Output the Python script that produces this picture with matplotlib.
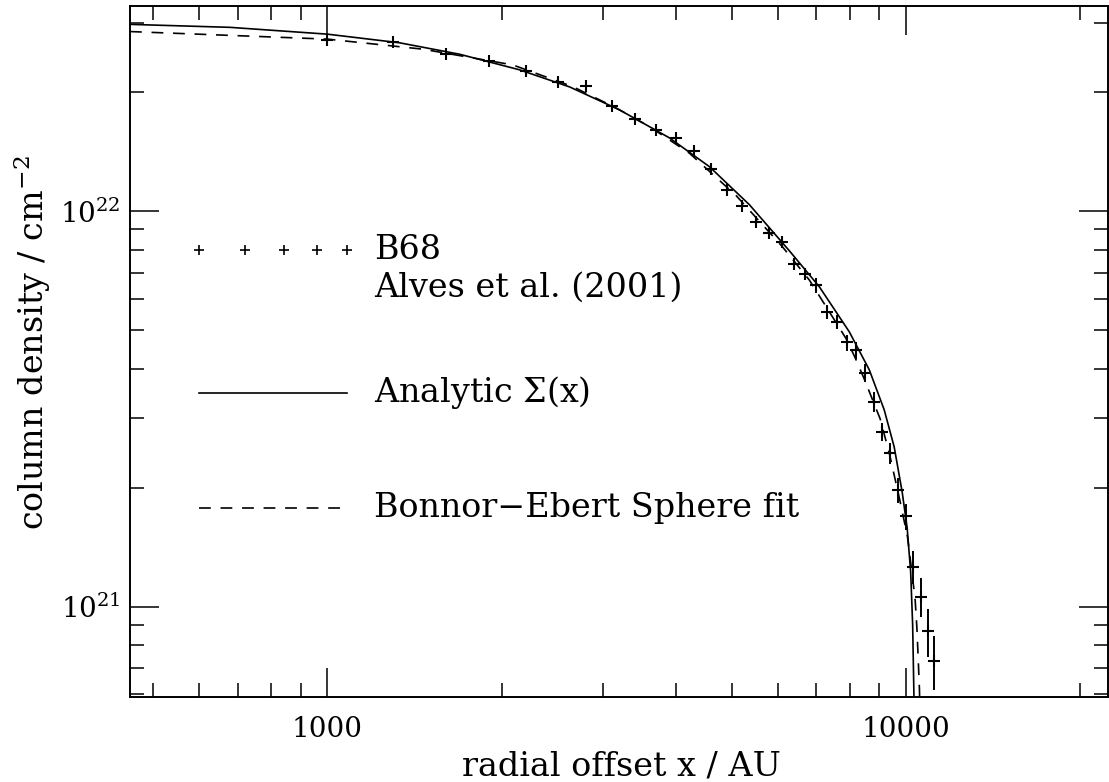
import matplotlib
matplotlib.use("Agg")
import matplotlib.pyplot as plt
from matplotlib.ticker import LogLocator, NullFormatter

plt.rcParams['font.family'] = ['DejaVu Serif']
plt.rcParams['mathtext.fontset'] = 'dejavuserif'
plt.rcParams['lines.scale_dashes'] = False

# ---- data: B68 (Alves et al. 2001) ----
b68_x = [1000, 1300, 1600, 1900, 2200, 2500, 2800, 3100, 3400, 3700,
         4000, 4300, 4600, 4900, 5200, 5500, 5800, 6100, 6400, 6700,
         7000, 7300, 7600, 7900, 8200, 8500, 8800, 9100, 9400, 9700,
         10000, 10300, 10600, 10900, 11200]
b68_y = [2.72e22, 2.69e22, 2.50e22, 2.40e22, 2.26e22, 2.12e22, 2.08e22, 1.85e22, 1.71e22, 1.61e22,
         1.53e22, 1.42e22, 1.28e22, 1.13e22, 1.03e22, 9.40e21, 8.82e21, 8.39e21, 7.38e21, 6.93e21,
         6.50e21, 5.56e21, 5.26e21, 4.66e21, 4.45e21, 3.90e21, 3.30e21, 2.77e21, 2.45e21, 1.97e21,
         1.69e21, 1.26e21, 1.06e21, 8.67e20, 7.29e20]
b68_err = [8.0e20, 8.0e20, 7.5e20, 7.0e20, 6.5e20, 6.0e20, 6.0e20, 5.5e20, 5.0e20, 4.7e20,
           4.5e20, 4.2e20, 3.8e20, 3.3e20, 3.6e20, 3.3e20, 3.1e20, 2.9e20, 2.6e20, 2.4e20,
           2.7e20, 2.3e20, 2.2e20, 2.2e20, 2.1e20, 2.1e20, 2.0e20, 1.5e20, 1.5e20, 1.4e20,
           1.3e20, 1.2e20, 1.2e20, 1.2e20, 1.15e20]

# ---- analytic Sigma(x) (solid) ----
ana_x = [455.6, 678, 1000, 1333, 1692, 2148, 2621, 3198, 3901, 4574,
         5363, 6287, 7085, 7982, 8644, 9175, 9546, 9854, 10052, 10193,
         10274, 10327, 10377]
ana_y = [2.974e22, 2.923e22, 2.809e22, 2.671e22, 2.499e22, 2.282e22, 2.066e22, 1.807e22, 1.535e22, 1.298e22,
         1.040e22, 7.953e21, 6.447e21, 4.960e21, 3.974e21, 3.145e21, 2.534e21, 1.949e21, 1.580e21, 1.223e21,
         8.974e20, 5.902e20, 3.236e20]

# ---- Bonnor-Ebert sphere fit (dashed) ----
be_x = [455.6, 1000, 1461, 2089, 2653, 3159, 3602, 4224, 5093, 6114,
        6808, 7284, 7888, 8175, 8472, 9029, 9376, 9777, 10064, 10266,
        10377, 10447, 10501, 10556, 10607]
be_y = [2.852e22, 2.729e22, 2.574e22, 2.349e22, 2.070e22, 1.825e22, 1.640e22, 1.404e22, 1.095e22, 8.145e21,
        6.706e21, 5.731e21, 4.756e21, 4.257e21, 3.767e21, 2.983e21, 2.42e21, 1.839e21, 1.502e21, 1.190e21,
        1.039e21, 8.87e20, 7.45e20, 6.15e20, 4.3e20]

x_major = [1000, 10000]
x_major_labels = ['1000', '10000']
y_major = [1e21, 1e22]
y_major_labels = [r'$10^{21}$', r'$10^{22}$']

legend_labels = ['B68', 'Alves et al. (2001)', r'Analytic $\Sigma$(x)', 'Bonnor\u2212Ebert Sphere fit']

# ---- figure ----
W, H = 1109, 782
fig = plt.figure(figsize=(W / 100, H / 100), dpi=100)
L, R, T, B = 130, 1108, 6, 696.5
ax = fig.add_axes([L / W, 1 - B / H, (R - L) / W, (B - T) / H])
ax.set_xscale('log')
ax.set_yscale('log')
ax.set_xlim(455.6, 22360)
ax.set_ylim(5.92e20, 3.31e22)

# data
ax.errorbar(b68_x, b68_y, yerr=b68_err, fmt='none', ecolor='black', elinewidth=1.4, capsize=0)
ax.plot(b68_x, b68_y, linestyle='none', marker='+', markersize=8.5, mew=1.5, color='black')
ax.plot(ana_x, ana_y, color='black', lw=1.2, solid_joinstyle='round')
ax.plot(be_x, be_y, color='black', lw=1.2, dashes=(8.5, 7))

# hand-drawn legend in data coordinates
leg_mark_x = [600, 720, 840, 960, 1080]
leg_line_x = [600, 1080]
leg_text_x = 1205
ax.plot(leg_mark_x, [8.0e21] * 5, linestyle='none', marker='+', markersize=7.5, mew=1.2, color='black')
ax.plot(leg_line_x, [3.48e21, 3.48e21], color='black', lw=1.2)
ax.plot(leg_line_x, [1.78e21, 1.78e21], color='black', lw=1.2, dashes=(8.5, 7))
fs = 24
ax.text(leg_text_x, 8.0e21, legend_labels[0], fontsize=fs, va='center', ha='left')
ax.text(leg_text_x, 6.40e21, legend_labels[1], fontsize=fs, va='center', ha='left')
ax.text(leg_text_x, 3.48e21, legend_labels[2], fontsize=fs, va='center', ha='left')
ax.text(leg_text_x, 1.78e21, legend_labels[3], fontsize=fs, va='center', ha='left')

# ticks
ax.set_xticks(x_major, x_major_labels)
ax.set_yticks(y_major, y_major_labels)
ax.xaxis.set_minor_locator(LogLocator(base=10, subs=range(2, 10), numticks=20))
ax.yaxis.set_minor_locator(LogLocator(base=10, subs=range(2, 10), numticks=20))
ax.xaxis.set_minor_formatter(NullFormatter())
ax.yaxis.set_minor_formatter(NullFormatter())
ax.tick_params(which='both', direction='in', top=True, right=True, width=1.1, color='black')
ax.tick_params(which='major', length=21)
ax.tick_params(which='minor', length=10)
ax.tick_params(axis='x', which='major', labelsize=20, pad=14)
ax.tick_params(axis='y', which='major', labelsize=20, pad=7)
for s in ax.spines.values():
    s.set_linewidth(1.4)

ax.set_xlabel('radial offset x / AU', fontsize=24, va='center')
ax.xaxis.set_label_coords(0.503, -0.102)
ax.set_ylabel(r'column density / cm$^{-2}$', fontsize=24, va='center')
ax.yaxis.set_label_coords(-0.100, 0.512)

fig.savefig('out.png', dpi=100)
